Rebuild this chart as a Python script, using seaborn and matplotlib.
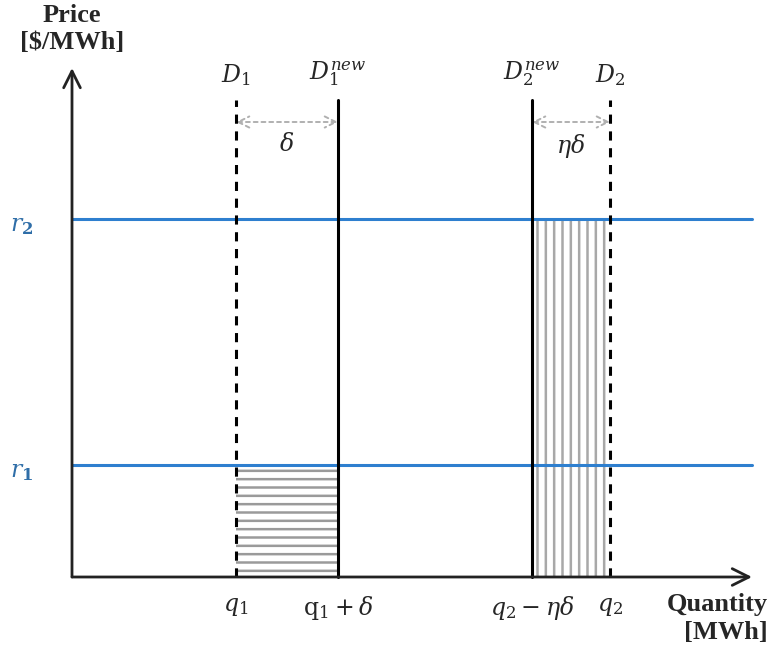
import matplotlib
matplotlib.use("Agg")
import matplotlib.pyplot as plt
import seaborn as sns
import pandas as pd

# Schematic quantities (arbitrary units, origin at the axes corner)
q1 = 164
delta = 102
q2 = 538
eta_delta = 78
r_levels = [112, 358]           # r1, r2
r_labels = [r"$\mathbf{\mathit{r}_1}$", r"$\mathbf{\mathit{r}_2}$"]
demand_top = 477
x_end = 680
y_end = 509
arrow_level = 455

demand_x = [q1, q1 + delta, q2 - eta_delta, q2]
demand_labels = [r"$D_1$", r"$D_1^{new}$", r"$D_2^{new}$", r"$D_2$"]
demand_styles = ["--", "-", "-", "--"]
q_labels = [r"$q_1$", r"$\mathrm{q}_1+\delta$", r"$q_2-\eta\delta$", r"$q_2$"]

sns.set_theme(style="white")
plt.rcParams["mathtext.fontset"] = "dejavuserif"
plt.rcParams["hatch.linewidth"] = 1.8

fig = plt.figure(figsize=(7.78, 6.5), dpi=100)
ax = fig.add_axes([0, 0, 1, 1])
ax.set_xlim(-72, 706)
ax.set_ylim(-73, 577)
ax.axis("off")

blue = "#2E7FCF"

# Price levels
price_df = pd.DataFrame({
    "x": [0, x_end, 0, x_end],
    "y": [r_levels[0], r_levels[0], r_levels[1], r_levels[1]],
    "level": ["r1", "r1", "r2", "r2"],
})
sns.lineplot(data=price_df, x="x", y="y", units="level", estimator=None,
             color=blue, linewidth=2.2, ax=ax, legend=False, zorder=3)

# Shaded areas
ax.fill_between([q1, q1 + delta], 0, r_levels[0], facecolor="white",
                edgecolor="#9a9a9a", hatch="--", linewidth=0, zorder=1)
ax.fill_between([q2 - eta_delta, q2], 0, r_levels[1], facecolor="white",
                edgecolor="#a8a8a8", hatch="||", linewidth=0, zorder=1)

# Demand curves
for x, ls, lab in zip(demand_x, demand_styles, demand_labels):
    ax.plot([x, x], [0, demand_top], color="black", linestyle=ls,
            linewidth=2.2, zorder=4,
            dashes=(3, 2.5) if ls == "--" else (None, None))
    ax.text(x, demand_top + 12, lab, ha="center", va="bottom", fontsize=17)

# Quantity tick labels
for x, lab in zip(demand_x, q_labels):
    ax.text(x, -17, lab, ha="center", va="top", fontsize=17)

# Price labels
for y, lab in zip(r_levels, r_labels):
    ax.text(-50, y - 6, lab, ha="center", va="center", fontsize=17,
            color="#2F6EA8")

# Delta arrows
for x0, x1, lab in [(q1, q1 + delta, r"$\delta$"),
                    (q2 - eta_delta, q2, r"$\eta\delta$")]:
    ax.annotate("", xy=(x1, arrow_level), xytext=(x0, arrow_level),
                arrowprops=dict(arrowstyle="<->", linestyle=(0, (2, 2)),
                                color="#b0b0b0", lw=1.4,
                                mutation_scale=20, shrinkA=0, shrinkB=0),
                zorder=2)
    ax.text((x0 + x1) / 2, arrow_level - 10, lab, ha="center", va="top",
            fontsize=17)

# Axes with open arrow heads
ax.annotate("", xy=(x_end, 0), xytext=(0, 0),
            arrowprops=dict(arrowstyle="->", color="#222222", lw=2,
                            mutation_scale=30, shrinkA=0, shrinkB=0), zorder=5)
ax.annotate("", xy=(0, y_end), xytext=(0, 0),
            arrowprops=dict(arrowstyle="->", color="#222222", lw=2,
                            mutation_scale=30, shrinkA=0, shrinkB=0), zorder=5)

serif = ["Liberation Serif", "DejaVu Serif"]
ax.text(0, 562, "Price", ha="center", va="center", fontsize=19,
        fontweight="bold", family=serif)
ax.text(0, 535, "[$/MWh]", ha="center", va="center", fontsize=19,
        fontweight="bold", family=serif)
ax.text(645, -28, "Quantity", ha="center", va="center", fontsize=19,
        fontweight="bold", family=serif)
ax.text(654, -56, "[MWh]", ha="center", va="center", fontsize=19,
        fontweight="bold", family=serif)

fig.savefig("out.png", dpi=100, facecolor="white")
